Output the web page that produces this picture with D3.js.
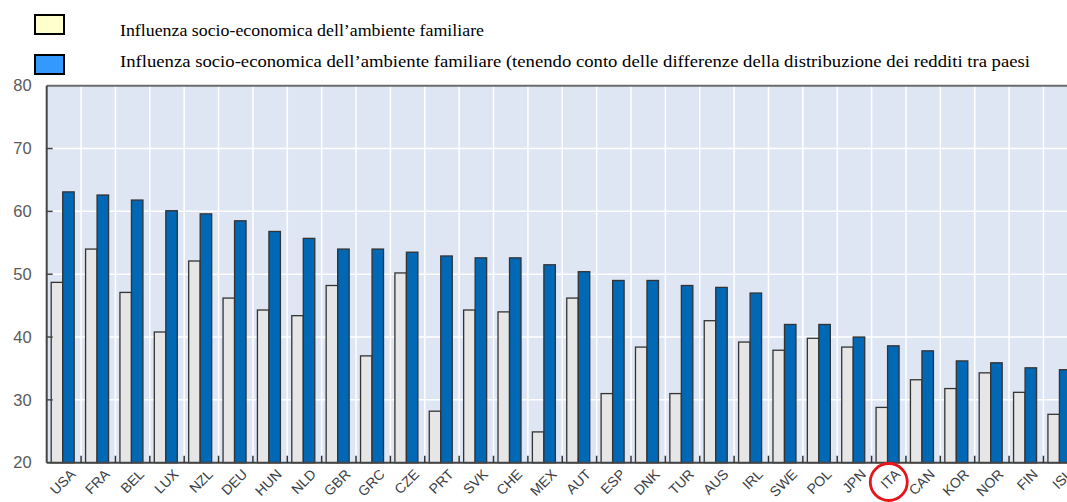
<!DOCTYPE html>
<html>
<head>
<meta charset="utf-8">
<script src="https://cdn.jsdelivr.net/npm/d3@7/dist/d3.min.js"></script>
<style>
  html, body { margin: 0; padding: 0; background: #fff; }
  svg { display: block; }
</style>
</head>
<body>
<svg id="chart" width="1067" height="502"></svg>
<script>
// Paesi OCSE, ordinati per influenza aggiustata
const countries = ["USA","FRA","BEL","LUX","NZL","DEU","HUN","NLD","GBR","GRC",
  "CZE","PRT","SVK","CHE","MEX","AUT","ESP","DNK","TUR","AUS",
  "IRL","SWE","POL","JPN","ITA","CAN","KOR","NOR","FIN","ISL"];

// Influenza socio-economica dell'ambiente familiare
const influenza = [48.7,54.0,47.1,40.8,52.1,46.2,44.3,43.4,48.2,37.0,
  50.2,28.2,44.3,44.0,24.9,46.2,31.0,38.4,31.0,42.6,
  39.2,37.9,39.8,38.4,28.8,33.2,31.8,34.3,31.2,27.7];

// Influenza aggiustata per le differenze nella distribuzione dei redditi
const influenzaAdj = [63.1,62.6,61.8,60.1,59.6,58.5,56.8,55.7,54.0,54.0,
  53.5,52.9,52.6,52.6,51.5,50.4,49.0,49.0,48.2,47.9,
  47.0,42.0,42.0,40.0,38.6,37.8,36.2,35.9,35.1,34.8];

const yTicks = [20,30,40,50,60,70,80];

const legendLabels = [
  "Influenza socio-economica dell\u2019ambiente familiare",
  "Influenza socio-economica dell\u2019ambiente familiare (tenendo conto delle differenze della distribuzione dei redditi tra paesi"
];

const svg = d3.select("#chart");
const plot = { left: 46.7, right: 1077.8, top: 85.7, bottom: 462.7 };

const x = d3.scaleBand().domain(countries).range([plot.left, plot.right]).padding(0);
const xSeries = d3.scaleBand().domain([0, 1]).range([4.5, 27.5]).padding(0);
const y = d3.scaleLinear().domain([20, 80]).range([plot.bottom, plot.top]);

const seriesFill = ["#e6e6e6", "#0068b4"];
const legendFill = ["#ffffcc", "#3399ff"];

// Legend
const legend = svg.append("g");
const legendRows = [{ box: 15, base: 36 }, { box: 55, base: 67 }];
legendLabels.forEach((t, i) => {
  legend.append("rect")
    .attr("x", 35).attr("y", legendRows[i].box).attr("width", 29).attr("height", 19)
    .attr("fill", legendFill[i]).attr("stroke", "#000").attr("stroke-width", 2);
  legend.append("text")
    .attr("x", 120).attr("y", legendRows[i].base)
    .attr("font-family", "Liberation Serif, Times New Roman, serif")
    .attr("font-size", 17.5).attr("fill", "#000")
    .attr("textLength", i === 0 ? 364 : 910)
    .attr("lengthAdjust", "spacingAndGlyphs")
    .text(t);
});

// Plot background
svg.append("rect")
  .attr("x", plot.left).attr("y", plot.top)
  .attr("width", plot.right - plot.left).attr("height", plot.bottom - plot.top)
  .attr("fill", "#dfe6f3");

// Horizontal gridlines
svg.append("g").selectAll("line").data(yTicks.slice(1, -1)).join("line")
  .attr("x1", plot.left).attr("x2", plot.right)
  .attr("y1", d => y(d)).attr("y2", d => y(d))
  .attr("stroke", "#fff").attr("stroke-width", 1.5);

// Vertical gridlines at category boundaries
svg.append("g").selectAll("line").data(countries.slice(1)).join("line")
  .attr("x1", d => x(d)).attr("x2", d => x(d))
  .attr("y1", plot.top).attr("y2", plot.bottom)
  .attr("stroke", "#fff").attr("stroke-width", 1.5);

// Bars
const groups = svg.append("g").selectAll("g").data(countries).join("g")
  .attr("transform", d => `translate(${x(d)},0)`);
[influenza, influenzaAdj].forEach((vals, s) => {
  groups.append("rect")
    .attr("x", xSeries(s))
    .attr("width", xSeries.bandwidth())
    .attr("y", (d, i) => y(vals[i]))
    .attr("height", (d, i) => plot.bottom - y(vals[i]))
    .attr("fill", seriesFill[s])
    .attr("stroke", "#333").attr("stroke-width", 1.3);
});

// Frame: top and left borders
svg.append("line").attr("x1", plot.left).attr("x2", plot.right)
  .attr("y1", plot.top).attr("y2", plot.top)
  .attr("stroke", "#6b6b6b").attr("stroke-width", 2);
svg.append("line").attr("x1", plot.left).attr("x2", plot.left)
  .attr("y1", plot.top).attr("y2", plot.bottom)
  .attr("stroke", "#444").attr("stroke-width", 2);

// Y axis
const yAxis = d3.axisLeft(y).tickValues(yTicks).tickSize(0).tickPadding(15);
const yg = svg.append("g").attr("transform", `translate(${plot.left},0)`).call(yAxis);
yg.select(".domain").remove();
yg.selectAll("text")
  .attr("font-family", "Liberation Sans, Arial, sans-serif")
  .attr("font-size", 16.5).attr("fill", "#5a5a5a");
// inner ticks on the left
svg.append("g").selectAll("line").data(yTicks.slice(1, -1)).join("line")
  .attr("x1", plot.left).attr("x2", plot.left + 6)
  .attr("y1", d => y(d)).attr("y2", d => y(d))
  .attr("stroke", "#444").attr("stroke-width", 1.5);

// X axis labels, turned 45 degrees
svg.append("g").selectAll("text").data(countries).join("text")
  .attr("transform", d =>
    `translate(${x(d) + x.bandwidth() / 2 + 9},${plot.bottom + 9}) rotate(-45)`)
  .attr("text-anchor", "end")
  .attr("dy", "0.35em")
  .attr("font-family", "Liberation Sans, Arial, sans-serif")
  .attr("font-size", 14).attr("fill", "#3a3f4a")
  .text(d => d);

// baseline
svg.append("line").attr("x1", plot.left).attr("x2", plot.right)
  .attr("y1", plot.bottom).attr("y2", plot.bottom)
  .attr("stroke", "#444").attr("stroke-width", 2);
// bottom ticks between categories
svg.append("g").selectAll("line").data(countries.slice(1)).join("line")
  .attr("x1", d => x(d)).attr("x2", d => x(d))
  .attr("y1", plot.bottom).attr("y2", plot.bottom - 7)
  .attr("stroke", "#333").attr("stroke-width", 1.5);

// Highlight Italy
svg.append("circle")
  .attr("cx", x("ITA") + x.bandwidth() / 2).attr("cy", 482).attr("r", 18.5)
  .attr("fill", "none").attr("stroke", "#e8141b").attr("stroke-width", 2.8);
</script>
</body>
</html>
